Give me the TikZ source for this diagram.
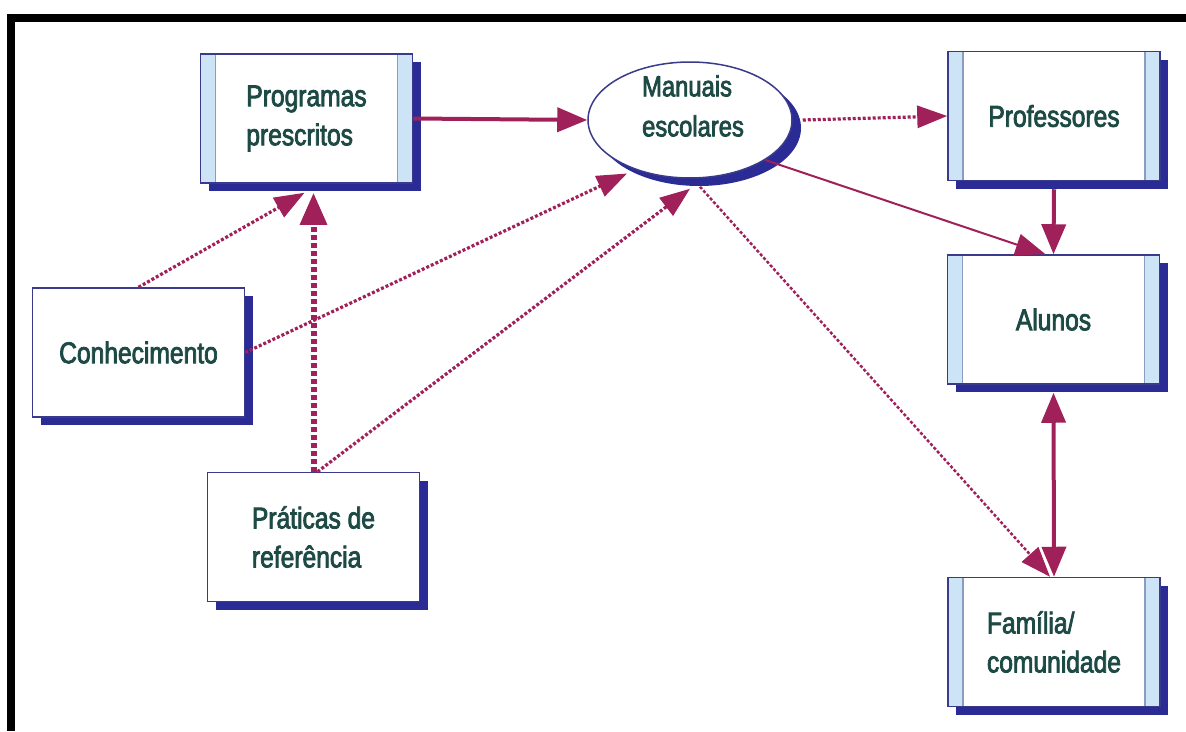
\documentclass[tikz,border=0pt]{standalone}
\usepackage{fontspec}
\newfontfamily\nf[FakeStretch=0.82,FakeBold=2.6]{Liberation Sans}
\usetikzlibrary{arrows.meta,shapes.geometric,shadows,calc}
\definecolor{navy}{HTML}{2B2B96}
\definecolor{border}{HTML}{3A3A8C}
\definecolor{stripfill}{HTML}{CDE4F7}
\definecolor{stripline}{HTML}{8A9CC0}
\definecolor{txt}{HTML}{1E4A45}
\definecolor{arr}{HTML}{A0215A}
\tikzset{
  x=1pt,y=-1pt,
  box/.style={rectangle,draw=border,line width=1.5pt,fill=white,
    minimum width=212pt,minimum height=129pt,inner sep=0pt,
    font=\nf\fontsize{30}{39}\selectfont,text=txt,align=left,
    drop shadow={shadow xshift=8pt,shadow yshift=-8pt,fill=navy,opacity=1}},
  stripbox/.style={box,path picture={
    \fill[stripfill] (path picture bounding box.south west) rectangle ([xshift=15pt]path picture bounding box.north west);
    \draw[stripline,line width=1.5pt] ([xshift=15pt]path picture bounding box.south west) -- ([xshift=15pt]path picture bounding box.north west);
    \fill[stripfill] (path picture bounding box.south east) rectangle ([xshift=-15pt]path picture bounding box.north east);
    \draw[stripline,line width=1.5pt] ([xshift=-15pt]path picture bounding box.south east) -- ([xshift=-15pt]path picture bounding box.north east);}},
  ell/.style={ellipse,draw=border,line width=1.5pt,fill=white,
    minimum width=204pt,minimum height=116pt,inner sep=0pt,
    drop shadow={shadow xshift=9pt,shadow yshift=-8pt,fill=navy,opacity=1}},
  elltext/.style={inner sep=0pt,font=\nf\fontsize{29}{40}\selectfont,text=txt,align=left},
  solidarr/.style={draw=arr,line width=4pt,-{Triangle[length=30pt,width=24pt]}},
  thinarr/.style={draw=arr,line width=2pt,-{Triangle[length=30pt,width=22pt]}},
  dotarr/.style={draw=arr,line width=3.2pt,dash pattern=on 3pt off 2pt,-{Triangle[length=30pt,width=22pt]}},
  thickdotarr/.style={draw=arr,line width=6pt,dash pattern=on 5pt off 3pt,-{Triangle[length=32pt,width=26pt]}},
}
\begin{document}
\begin{tikzpicture}
\useasboundingbox (0,0) rectangle (1186,731);
\fill[white] (0,0) rectangle (1186,731);
% frame
\fill[black] (7,14) rectangle (1186,22);
\fill[black] (7,14) rectangle (15,731);

% nodes
\node[stripbox] (prog) at (306.5,118.5) {Programas\\prescritos};
\node[ell] (man) at (690,120) {};
\node[elltext] (mantxt) at (693,106) {Manuais\\escolares};
\node[stripbox] (prof) at (1054,116) {Professores};
\node[stripbox] (alun) at (1053.5,319.5) {Alunos};
\node[stripbox] (fam) at (1054,642) {Família/\\comunidade};
\node[box] (conh) at (138.5,352.5) {Conhecimento};
\node[box] (prat) at (313.5,537) {Práticas de\\referência};

% connectors
\draw[solidarr] (prog.east) -- (man.west);
\draw[dotarr] ($(man.east)+(10,0)$) -- (prof.west);
\draw[thinarr] (man.-28) -- ($(alun.north)+(-8,0)$);
\draw[solidarr] ($(prof.south)+(0,8)$) -- (alun.north);
\draw[solidarr,{Triangle[length=30pt,width=24pt]}-{Triangle[length=30pt,width=24pt]}] ($(alun.south)+(0,8)$) -- (fam.north);
\draw[dotarr,line width=2.5pt] ($(man.south)+(10,8)$) -- ($(fam.north)+(-4,0)$);
\draw[dotarr] (conh.north) -- ($(prog.south)+(-2,9)$);
\draw[dotarr] (conh.east) -- ($(man.215)+(2,8)$);
\draw[thickdotarr] (prat.north) -- ($(prat.north |- prog.south)+(0,9)$);
\draw[dotarr] ($(prat.north)+(4,0)$) -- ($(man.south)+(0,10)$);
\end{tikzpicture}
\end{document}
